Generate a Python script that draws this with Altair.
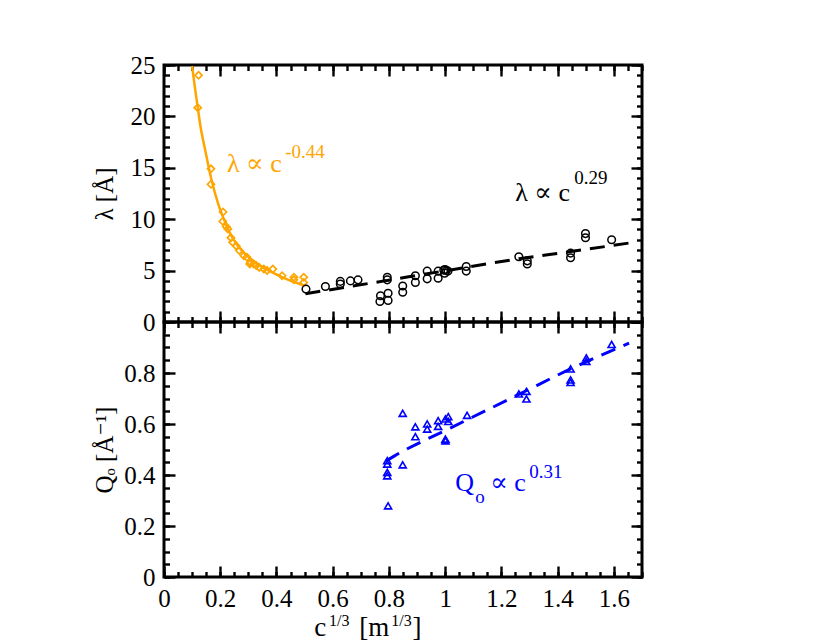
import altair as alt
import pandas as pd

FONT = "Liberation Serif, DejaVu Serif, serif"
ORANGE = "#ffa500"
BLUE = "#0000ff"

# ---------------- data ----------------
orange_x = [0.123, 0.120, 0.167, 0.167, 0.210, 0.209, 0.221, 0.227, 0.238, 0.244,
            0.257, 0.268, 0.284, 0.295, 0.307, 0.305, 0.319, 0.328, 0.339, 0.355,
            0.367, 0.387, 0.420, 0.462, 0.462, 0.497, 0.497]
orange_lam = [24.0, 20.85, 14.9, 13.4, 10.7, 9.8, 9.3, 9.05, 8.2, 7.75,
              7.4, 6.95, 6.45, 6.3, 5.8, 5.65, 5.65, 5.5, 5.3, 5.15,
              5.0, 5.15, 4.5, 4.35, 4.1, 4.35, 3.85]
orange_fit_x = [0.100, 0.110, 0.120, 0.130, 0.147, 0.167, 0.195, 0.210, 0.230,
                0.260, 0.289, 0.330, 0.373, 0.430, 0.497]
orange_fit_lam = [24.9, 22.8, 20.85, 19.0, 16.65, 14.05, 11.3, 10.2, 8.9,
                  7.5, 6.6, 5.7, 5.0, 4.25, 3.55]

black_x = [0.505, 0.574, 0.627, 0.627, 0.663, 0.690, 0.768, 0.770, 0.797, 0.797,
           0.794, 0.794, 0.849, 0.849, 0.894, 0.894, 0.936, 0.936, 0.975, 0.975,
           0.995, 1.000, 1.010, 0.998, 1.004, 1.075, 1.075, 1.262, 1.292, 1.292,
           1.446, 1.446, 1.499, 1.499, 1.592]
black_lam = [3.2, 3.45, 3.95, 3.7, 4.0, 4.1, 2.0, 2.55, 2.1, 2.8,
             4.35, 4.1, 3.5, 2.9, 4.5, 3.85, 4.95, 4.2, 4.95, 4.25,
             5.05, 5.1, 4.95, 4.75, 5.0, 5.4, 4.95, 6.35, 5.95, 5.65,
             6.7, 6.25, 8.6, 8.2, 8.0]
black_fit_x = [0.503, 0.650, 0.794, 1.004, 1.262, 1.446, 1.659]
black_fit_lam = [2.75, 3.4, 4.05, 5.0, 6.15, 6.85, 7.7]

blue_x = [1.592, 1.502, 1.502, 1.446, 1.446, 1.446, 1.289, 1.289, 1.262, 1.078,
          1.011, 1.011, 1.001, 0.975, 0.975, 1.001, 1.001, 0.936, 0.936, 0.894,
          0.894, 0.849, 0.849, 0.794, 0.794, 0.794, 0.794, 0.797]
blue_q = [0.912, 0.859, 0.846, 0.816, 0.773, 0.763, 0.728, 0.698, 0.718, 0.634,
          0.629, 0.610, 0.620, 0.613, 0.591, 0.541, 0.534, 0.600, 0.580, 0.589,
          0.550, 0.642, 0.440, 0.456, 0.443, 0.410, 0.397, 0.279]
blue_fit_x = [0.790, 0.820, 1.020, 1.262, 1.446, 1.654]
blue_fit_q = [0.455, 0.475, 0.585, 0.716, 0.816, 0.917]

# tick values
x_major = [0, 0.2, 0.4, 0.6, 0.8, 1.0, 1.2, 1.4, 1.6]
x_minor = [round(0.05 * i, 2) for i in range(35)]
y1_major = [0, 5, 10, 15, 20, 25]
y1_minor = list(range(26))
y2_major = [0, 0.2, 0.4, 0.6, 0.8]
y2_minor = [round(0.05 * i, 2) for i in range(21)]

# ---------------- layout constants ----------------
W, H1, H2 = 478, 257, 255
MAJ, MIN, TW = 11, 5.5, 2.4
XS = alt.Scale(domain=[0, 1.7], nice=False, zero=False)
YS1 = alt.Scale(domain=[0, 25], nice=False, zero=False)
YS2 = alt.Scale(domain=[0, 1], nice=False, zero=False)


def tick_axis(orient, values, size, labels=False, **kw):
    d = dict(orient=orient, values=values, tickSize=size, offset=-size,
             domain=False, grid=False, ticks=True, labels=labels,
             tickWidth=TW, tickColor="black", title=None)
    if labels:
        d.update(labelFont=FONT, labelFontSize=25, labelColor="black",
                 labelFlush=False, labelOverlap=False, labelBound=False, format="~g")
    d.update(kw)
    return alt.Axis(**d)


def df_xy(xs, ys):
    return pd.DataFrame({"x": xs, "y": ys})


def enc(chart, ys, xaxis, yaxis):
    return chart.encode(x=alt.X("x:Q", scale=XS, axis=xaxis),
                        y=alt.Y("y:Q", scale=ys, axis=yaxis))


def text_layer(xs, ys, texts, ysc, size, color):
    df = pd.DataFrame({"x": xs, "y": ys, "t": texts})
    return alt.Chart(df).mark_text(align="left", baseline="alphabetic", font=FONT,
                                   fontSize=size, color=color).encode(
        x=alt.X("x:Q", scale=XS, axis=None),
        y=alt.Y("y:Q", scale=ysc, axis=None),
        text="t:N")


left_common = dict(labelPadding=9, minExtent=52, maxExtent=52,
                   titleFont=FONT, titleFontSize=25, titleFontWeight="normal",
                   titleColor="black", titlePadding=6)

# ---------------- top panel ----------------
t1 = enc(alt.Chart(df_xy(orange_fit_x, orange_fit_lam)).mark_line(
    color=ORANGE, strokeWidth=2.5, clip=True, interpolate="monotone"), YS1,
    tick_axis("bottom", x_major, MAJ),
    tick_axis("left", y1_major, MAJ, labels=True, title="λ [Å]", **left_common))
t2 = enc(alt.Chart(df_xy(orange_x, orange_lam)).mark_point(
    shape="diamond", filled=False, color=ORANGE, size=50, strokeWidth=1.7, opacity=1), YS1,
    tick_axis("bottom", x_minor, MIN),
    tick_axis("left", y1_minor, MIN))
t3 = enc(alt.Chart(df_xy(black_fit_x, black_fit_lam)).mark_line(
    color="black", strokeWidth=3, strokeDash=[15, 9], interpolate="monotone"), YS1,
    tick_axis("top", x_major, MAJ),
    tick_axis("right", y1_major, MAJ))
t4 = enc(alt.Chart(df_xy(black_x, black_lam)).mark_point(
    shape="circle", filled=False, color="black", size=58, strokeWidth=1.5, opacity=1), YS1,
    tick_axis("top", x_minor, MIN),
    tick_axis("right", y1_minor, MIN))
t5 = text_layer([0.224], [14.6], ["λ ∝ c"], YS1, 26, ORANGE)
t6 = text_layer([0.431], [16.0], ["-0.44"], YS1, 19, ORANGE)
t7 = text_layer([1.249], [11.8], ["λ ∝ c"], YS1, 26, "black")
t8 = text_layer([1.459], [13.45], ["0.29"], YS1, 19, "black")

top = alt.layer(t1, t2, t3, t4, t5, t6, t7, t8).resolve_axis(
    x="independent", y="independent").properties(width=W, height=H1)

# ---------------- bottom panel ----------------
b1 = enc(alt.Chart(df_xy(blue_fit_x, blue_fit_q)).mark_line(
    color=BLUE, strokeWidth=3, strokeDash=[15, 9], interpolate="monotone"), YS2,
    tick_axis("bottom", x_major, MAJ, labels=True, labelPadding=9),
    tick_axis("left", y2_major, MAJ, labels=True, title="Qₒ [Å⁻¹]", **left_common))
b2 = enc(alt.Chart(df_xy(blue_x, blue_q)).mark_point(
    shape="triangle-up", filled=False, color=BLUE, size=50, strokeWidth=1.6, opacity=1), YS2,
    tick_axis("bottom", x_minor, MIN),
    tick_axis("left", y2_minor, MIN))
b3 = enc(alt.Chart(pd.DataFrame({"x": [1.036], "y": [0.338], "t": ["Q"]})).mark_text(
    align="left", baseline="alphabetic", font=FONT, fontSize=26, color=BLUE).encode(text="t:N"), YS2,
    tick_axis("top", x_major, MAJ),
    tick_axis("right", [0, 0.2, 0.4, 0.6, 0.8, 1.0], MAJ))
b4 = enc(alt.Chart(pd.DataFrame({"x": [1.107], "y": [0.291], "t": ["o"]})).mark_text(
    align="left", baseline="alphabetic", font=FONT, fontSize=19, color=BLUE).encode(text="t:N"), YS2,
    tick_axis("top", x_minor, MIN),
    tick_axis("right", y2_minor, MIN))
b5 = text_layer([1.160], [0.338], ["∝ c"], YS2, 26, BLUE)
b6 = text_layer([1.299], [0.389], ["0.31"], YS2, 19, BLUE)

# x-axis title pieces: c^{1/3} [m^{1/3}]
xt_big = alt.Chart(pd.DataFrame({"x": [0.534, 0.694, 0.884], "t": ["c", "[m", "]"]})).mark_text(
    align="left", baseline="alphabetic", font=FONT, fontSize=27, color="black").encode(
    x=alt.X("x:Q", scale=XS, axis=None), y=alt.value(H2 + 59), text="t:N")
xt_small = alt.Chart(pd.DataFrame({"x": [0.587, 0.808], "t": ["1/3", "1/3"]})).mark_text(
    align="left", baseline="alphabetic", font=FONT, fontSize=16, color="black").encode(
    x=alt.X("x:Q", scale=XS, axis=None), y=alt.value(H2 + 49), text="t:N")

bottom = alt.layer(b1, b2, b3, b4, b5, b6, xt_big, xt_small).resolve_axis(
    x="independent", y="independent").properties(width=W, height=H2)

chart = alt.vconcat(top, bottom, spacing=0, bounds="flush").resolve_scale(
    y="independent").properties(
    padding={"left": 82, "top": 43, "right": 5, "bottom": 0}
).configure_view(stroke="black", strokeWidth=3)

chart.save("out.html", embed_options={"renderer": "svg", "actions": False})
